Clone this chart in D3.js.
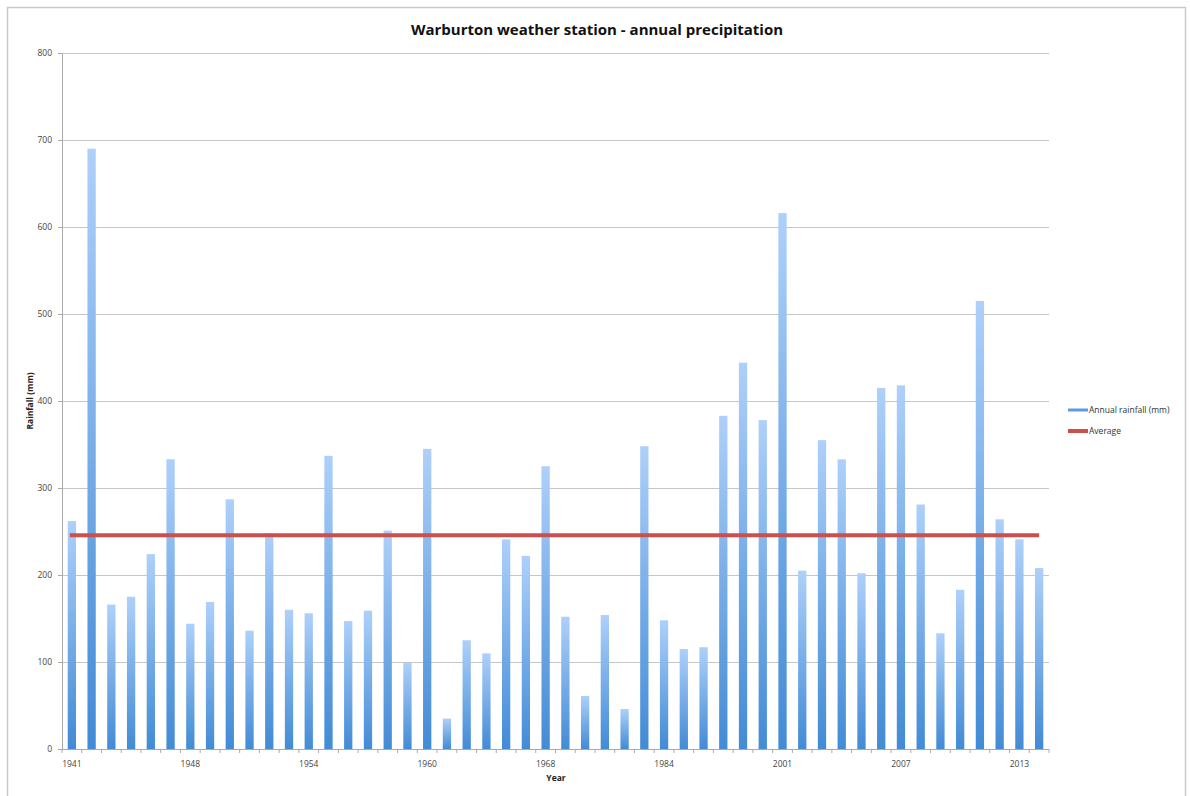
<!DOCTYPE html>
<html>
<head>
<meta charset="utf-8">
<script src="https://cdn.jsdelivr.net/npm/d3@7"></script>
<style>
  body { margin: 0; background: #fff; }
  svg text { font-family: "Open Sans", "Liberation Sans", sans-serif; }
</style>
</head>
<body>
<div id="chart"></div>
<script>
// year categories (station record has gaps)
const years = [
    "1941", "1942", "1943", "1944", "1945", "1946", "1948", "1949", "1950", "1951",
    "1952", "1953", "1954", "1955", "1956", "1957", "1958", "1959", "1960", "1961",
    "1962", "1963", "1965", "1966", "1968", "1969", "1970", "1971", "1972", "1983",
    "1984", "1985", "1986", "1998", "1999", "2000", "2001", "2002", "2003", "2004",
    "2005", "2006", "2007", "2008", "2009", "2010", "2011", "2012", "2013", "2014"
];

const rainfall = [
    262, 690, 166, 175, 224, 333, 144, 169, 287, 136,
    248, 160, 156, 337, 147, 159, 251, 99, 345, 35,
    125, 110, 241, 222, 325, 152, 61, 154, 46, 348,
    148, 115, 117, 383, 444, 378, 616, 205, 355, 333,
    202, 415, 418, 281, 133, 183, 515, 264, 241, 208
];

const averageValue = 245.6;

const yearLabels = ["1941", "1948", "1954", "1960", "1968", "1984", "2001", "2007", "2013"];
const yTicks = [0, 100, 200, 300, 400, 500, 600, 700, 800];

const legendItems = ["Annual rainfall (mm)", "Average"];

const width = 1190;
const height = 796;
const margin = { top: 53, right: 141, bottom: 47, left: 62 };
const plotW = width - margin.left - margin.right;
const plotH = height - margin.top - margin.bottom;

const svg = d3.select("#chart")
    .append("svg")
    .attr("width", width)
    .attr("height", height);

// outer frame
svg.append("rect")
    .attr("x", 7.5)
    .attr("y", 7.5)
    .attr("width", 1178)
    .attr("height", 800)
    .attr("fill", "none")
    .attr("stroke", "#c9c9c9")
    .attr("stroke-width", 1.5);

// bar gradient
const grad = svg.append("defs")
    .append("linearGradient")
    .attr("id", "barGrad")
    .attr("x1", 0).attr("y1", 0)
    .attr("x2", 0).attr("y2", 1);
grad.append("stop").attr("offset", "0%").attr("stop-color", "#aed0fa");
grad.append("stop").attr("offset", "100%").attr("stop-color", "#428bd6");

// Title
svg.append("text")
    .attr("x", 597)
    .attr("y", 35)
    .attr("text-anchor", "middle")
    .style("font-size", "15px")
    .style("font-weight", "bold")
    .style("fill", "#111")
    .text("Warburton weather station - annual precipitation");

const g = svg.append("g")
    .attr("transform", `translate(${margin.left}, ${margin.top})`);

const x = d3.scaleBand()
    .domain(years)
    .range([0, plotW])
    .padding(0);

const y = d3.scaleLinear()
    .domain([0, 800])
    .range([plotH, 0]);

// gridlines
g.append("g")
    .selectAll("line")
    .data(yTicks.slice(1))
    .enter()
    .append("line")
    .attr("x1", 0)
    .attr("x2", plotW)
    .attr("y1", d => y(d) + 0.5)
    .attr("y2", d => y(d) + 0.5)
    .attr("stroke", "#c6c6c6")
    .attr("stroke-width", 1.2);

// y axis
const yAxis = g.append("g")
    .call(d3.axisLeft(y).tickValues(yTicks).tickSize(4).tickPadding(6));
yAxis.select(".domain").attr("stroke", "#aaa");
yAxis.selectAll(".tick line").attr("stroke", "#aaa");
yAxis.selectAll("text")
    .style("font-size", "8.5px")
    .style("fill", "#444");

// bars
const barW = x.bandwidth() * 0.42;
g.append("g")
    .selectAll("rect")
    .data(rainfall)
    .enter()
    .append("rect")
    .attr("x", (d, i) => x(years[i]) + (x.bandwidth() - barW) / 2)
    .attr("y", d => y(d))
    .attr("width", barW)
    .attr("height", d => plotH - y(d))
    .attr("fill", "url(#barGrad)");

// x axis: ticks between categories, labels on selected years
const xAxisG = g.append("g")
    .attr("transform", `translate(0, ${plotH})`);
xAxisG.append("line")
    .attr("x1", 0).attr("x2", plotW)
    .attr("y1", 0.5).attr("y2", 0.5)
    .attr("stroke", "#aaa");
xAxisG.selectAll(".sep")
    .data(years.concat(["end"]))
    .enter()
    .append("line")
    .attr("class", "sep")
    .attr("x1", (d, i) => i * x.step())
    .attr("x2", (d, i) => i * x.step())
    .attr("y1", 0)
    .attr("y2", 4)
    .attr("stroke", "#aaa");
xAxisG.selectAll(".lbl")
    .data(yearLabels)
    .enter()
    .append("text")
    .attr("class", "lbl")
    .attr("x", d => x(d) + x.bandwidth() / 2)
    .attr("y", 18)
    .attr("text-anchor", "middle")
    .style("font-size", "8.5px")
    .style("fill", "#444")
    .text(d => d);

// average line
g.append("line")
    .attr("x1", x(years[0]) + x.bandwidth() / 2 - 2)
    .attr("x2", x(years[years.length - 1]) + x.bandwidth() / 2)
    .attr("y1", y(averageValue))
    .attr("y2", y(averageValue))
    .attr("stroke", "#c9504c")
    .attr("stroke-width", 4);

// axis titles
svg.append("text")
    .attr("x", 556)
    .attr("y", 781)
    .attr("text-anchor", "middle")
    .style("font-size", "8.5px")
    .style("font-weight", "bold")
    .style("fill", "#222")
    .text("Year");

svg.append("text")
    .attr("transform", `translate(33, ${margin.top + plotH / 2}) rotate(-90)`)
    .attr("text-anchor", "middle")
    .style("font-size", "8.5px")
    .style("font-weight", "bold")
    .style("fill", "#222")
    .text("Rainfall (mm)");

// legend
const legendColor = d3.scaleOrdinal()
    .domain(legendItems)
    .range(["#5b9ce0", "#c9504c"]);

const legend = svg.append("g")
    .attr("transform", "translate(1068, 410)");

const li = legend.selectAll("g")
    .data(legendItems)
    .enter()
    .append("g")
    .attr("transform", (d, i) => `translate(0, ${i * 21})`);

li.append("line")
    .attr("x1", 0)
    .attr("x2", 20)
    .attr("y1", 0)
    .attr("y2", 0)
    .attr("stroke", d => legendColor(d))
    .attr("stroke-width", (d, i) => i === 0 ? 3 : 4);

li.append("text")
    .attr("x", 21)
    .attr("y", 3)
    .style("font-size", "8.5px")
    .style("fill", "#333")
    .text(d => d);
</script>
</body>
</html>
